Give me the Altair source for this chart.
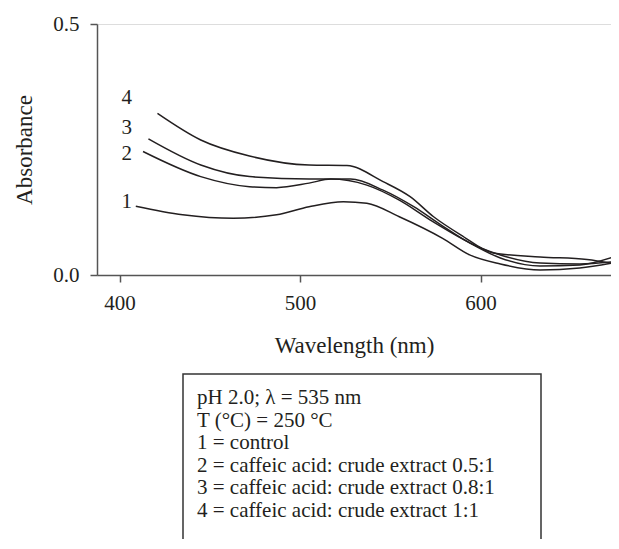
import altair as alt
import pandas as pd

# Curve data (wavelength nm, absorbance)
wl_1 = [409, 435, 463, 487, 505, 524, 537, 555, 579, 594, 611, 633, 655, 673]
ab_1 = [0.137, 0.120, 0.113, 0.120, 0.136, 0.146, 0.143, 0.116, 0.073, 0.040, 0.022, 0.010, 0.014, 0.024]

wl_2 = [413, 445, 472, 487, 505, 517, 537, 555, 572, 591, 611, 633, 655, 673]
ab_2 = [0.246, 0.196, 0.176, 0.174, 0.183, 0.191, 0.179, 0.149, 0.110, 0.070, 0.034, 0.018, 0.020, 0.035]

wl_3 = [416, 445, 472, 505, 528, 546, 563, 578, 594, 611, 633, 655, 673]
ab_3 = [0.271, 0.219, 0.196, 0.191, 0.191, 0.169, 0.136, 0.100, 0.064, 0.040, 0.024, 0.022, 0.026]

wl_4 = [421, 445, 472, 505, 526, 546, 561, 574, 589, 607, 633, 659, 677]
ab_4 = [0.322, 0.269, 0.237, 0.219, 0.218, 0.186, 0.156, 0.116, 0.080, 0.044, 0.036, 0.031, 0.020]

curve_ids = ["1", "2", "3", "4"]
label_wl = [404, 404, 404, 404]
label_ab = [0.146, 0.241, 0.293, 0.353]

x_ticks = [400, 500, 600]
y_ticks = [0.0, 0.5]

legend_lines = [
    "pH 2.0; \u03bb = 535 nm",
    "T (\u00b0C) = 250 \u00b0C",
    "1 = control",
    "2 = caffeic acid: crude extract 0.5:1",
    "3 = caffeic acid: crude extract 0.8:1",
    "4 = caffeic acid: crude extract 1:1",
]

rows = []
for cid, wls, abs_ in zip(curve_ids, [wl_1, wl_2, wl_3, wl_4], [ab_1, ab_2, ab_3, ab_4]):
    for w, a in zip(wls, abs_):
        rows.append({"curve": cid, "wl": w, "abs": a})
df = pd.DataFrame(rows)
lab = pd.DataFrame({"curve": curve_ids, "wl": label_wl, "abs": label_ab})

FONT = "Liberation Serif"
INK = "#231f20"

xscale = alt.Scale(domain=[387.5, 672.3], nice=False, zero=False)
yscale = alt.Scale(domain=[0, 0.5], nice=False)

lines = alt.Chart(df).mark_line(interpolate="monotone", color=INK, strokeWidth=1.5, clip=True).encode(
    x=alt.X("wl:Q", scale=xscale,
            axis=alt.Axis(values=x_ticks, title="Wavelength (nm)", grid=False,
                          tickSize=7, labelPadding=10, titlePadding=21,
                          labelFontSize=21, titleFontSize=23, labelFont=FONT, titleFont=FONT,
                          labelColor=INK, titleColor=INK, domainColor="#555", tickColor="#555",
                          titleFontWeight="normal", domainWidth=1.5, tickWidth=1.5)),
    y=alt.Y("abs:Q", scale=yscale,
            axis=alt.Axis(values=y_ticks, format=".1f", title="Absorbance", grid=False,
                          tickSize=7, labelPadding=11, titlePadding=16,
                          labelFontSize=21, titleFontSize=23, labelFont=FONT, titleFont=FONT,
                          labelColor=INK, titleColor=INK, domainColor="#555", tickColor="#555",
                          titleFontWeight="normal", domainWidth=1.5, tickWidth=1.5)),
    detail="curve:N",
)

labels = alt.Chart(lab).mark_text(font=FONT, fontSize=21, color=INK, align="center", baseline="middle").encode(
    x=alt.X("wl:Q", scale=xscale),
    y=alt.Y("abs:Q", scale=yscale),
    text="curve:N",
)

box_df = pd.DataFrame({"k": [0]})
box = alt.Chart(box_df).mark_rect(fill="white", fillOpacity=0, stroke="#333333", strokeWidth=1.5).encode(
    x=alt.value(86), x2=alt.value(444), y=alt.value(350), y2=alt.value(620),
)
box_text = alt.Chart(box_df).mark_text(font=FONT, fontSize=21, color=INK, align="left",
                                        baseline="top", lineHeight=22.5).encode(
    x=alt.value(100), y=alt.value(363), text=alt.value(legend_lines),
)

chart = (lines + labels + box + box_text).properties(
    width=514, height=251,
    autosize=alt.AutoSizeParams(type="none"),
    padding={"left": 89, "top": 16, "right": 0, "bottom": 264},
).configure_view(strokeWidth=0).configure(background="white")

chart.save("out.html", embed_options={"renderer": "svg", "actions": False})
